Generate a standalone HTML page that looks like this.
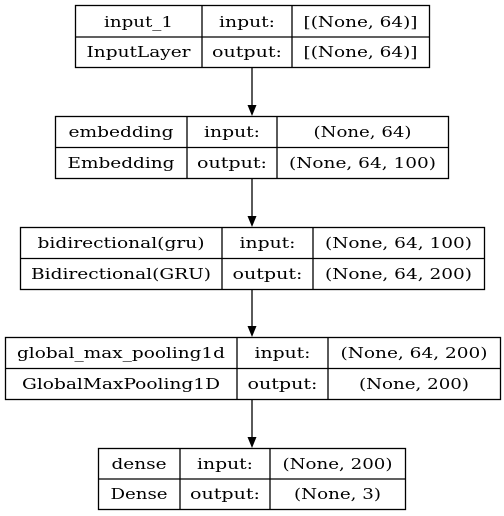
<!DOCTYPE html>
<html><head><meta charset="utf-8"><style>html,body{margin:0;padding:0;background:#fff}svg{display:block}</style></head>
<body>
<svg width="504" height="516" xmlns="http://www.w3.org/2000/svg" font-family="DejaVu Serif, Liberation Serif, serif" font-size="15" fill="#000">
<g stroke="#000" stroke-width="1.3" fill="none">
<rect x="75.5" y="5.5" width="354" height="62"/><line x1="75" y1="37" x2="429" y2="37"/><line x1="202" y1="5" x2="202" y2="67"/><line x1="292" y1="5" x2="292" y2="67"/>
<rect x="55.5" y="116.5" width="393" height="62"/><line x1="55" y1="147.5" x2="448" y2="147.5"/><line x1="187" y1="116" x2="187" y2="178"/><line x1="277" y1="116" x2="277" y2="178"/>
<rect x="20.5" y="227.5" width="464" height="62"/><line x1="20" y1="258.5" x2="484" y2="258.5"/><line x1="222" y1="227" x2="222" y2="289"/><line x1="313" y1="227" x2="313" y2="289"/>
<rect x="5.5" y="337.5" width="495" height="62"/><line x1="5" y1="368.5" x2="500" y2="368.5"/><line x1="237" y1="337" x2="237" y2="399"/><line x1="328" y1="337" x2="328" y2="399"/>
<rect x="98.5" y="448.5" width="307" height="61"/><line x1="98" y1="479" x2="405" y2="479"/><line x1="180" y1="448" x2="180" y2="509"/><line x1="270" y1="448" x2="270" y2="509"/>
<line x1="252" y1="67" x2="252" y2="106"/><line x1="252" y1="178" x2="252" y2="217"/><line x1="252" y1="289" x2="252" y2="327"/><line x1="252" y1="399" x2="252" y2="438"/>
</g>
<g fill="#000">
<polygon points="247.5,105 256.5,105 252,116"/><polygon points="247.5,216 256.5,216 252,227"/><polygon points="247.5,326 256.5,326 252,337"/><polygon points="247.5,437 256.5,437 252,448"/>
</g>
<g text-anchor="middle" lengthAdjust="spacingAndGlyphs">
<text x="138.5" y="27" textLength="69" lengthAdjust="spacingAndGlyphs">input_1</text><text x="247" y="27" textLength="56" lengthAdjust="spacingAndGlyphs">input:</text><text x="360.5" y="27" textLength="114" lengthAdjust="spacingAndGlyphs">[(None, 64)]</text>
<text x="138.5" y="57" textLength="104" lengthAdjust="spacingAndGlyphs">InputLayer</text><text x="247" y="57" textLength="70" lengthAdjust="spacingAndGlyphs">output:</text><text x="360.5" y="57" textLength="114" lengthAdjust="spacingAndGlyphs">[(None, 64)]</text>
<text x="121" y="137" textLength="105" lengthAdjust="spacingAndGlyphs">embedding</text><text x="232" y="137" textLength="56" lengthAdjust="spacingAndGlyphs">input:</text><text x="362.5" y="137" textLength="98" lengthAdjust="spacingAndGlyphs">(None, 64)</text>
<text x="121" y="168" textLength="107" lengthAdjust="spacingAndGlyphs">Embedding</text><text x="232" y="168" textLength="70" lengthAdjust="spacingAndGlyphs">output:</text><text x="362.5" y="168" textLength="147" lengthAdjust="spacingAndGlyphs">(None, 64, 100)</text>
<text x="121" y="248" textLength="167" lengthAdjust="spacingAndGlyphs">bidirectional(gru)</text><text x="267.5" y="248" textLength="56" lengthAdjust="spacingAndGlyphs">input:</text><text x="398.5" y="248" textLength="147" lengthAdjust="spacingAndGlyphs">(None, 64, 100)</text>
<text x="121" y="279" textLength="180" lengthAdjust="spacingAndGlyphs">Bidirectional(GRU)</text><text x="267.5" y="279" textLength="70" lengthAdjust="spacingAndGlyphs">output:</text><text x="398.5" y="279" textLength="147" lengthAdjust="spacingAndGlyphs">(None, 64, 200)</text>
<text x="121" y="358" textLength="208" lengthAdjust="spacingAndGlyphs">global_max_pooling1d</text><text x="282.5" y="358" textLength="56" lengthAdjust="spacingAndGlyphs">input:</text><text x="414" y="358" textLength="147" lengthAdjust="spacingAndGlyphs">(None, 64, 200)</text>
<text x="121" y="389" textLength="198" lengthAdjust="spacingAndGlyphs">GlobalMaxPooling1D</text><text x="282.5" y="389" textLength="70" lengthAdjust="spacingAndGlyphs">output:</text><text x="414" y="389" textLength="110" lengthAdjust="spacingAndGlyphs">(None, 200)</text>
<text x="139" y="469" textLength="55" lengthAdjust="spacingAndGlyphs">dense</text><text x="225" y="469" textLength="56" lengthAdjust="spacingAndGlyphs">input:</text><text x="337.5" y="469" textLength="110" lengthAdjust="spacingAndGlyphs">(None, 200)</text>
<text x="139" y="499" textLength="57" lengthAdjust="spacingAndGlyphs">Dense</text><text x="225" y="499" textLength="70" lengthAdjust="spacingAndGlyphs">output:</text><text x="337.5" y="499" textLength="87" lengthAdjust="spacingAndGlyphs">(None, 3)</text>
</g>
</svg>
</body></html>
